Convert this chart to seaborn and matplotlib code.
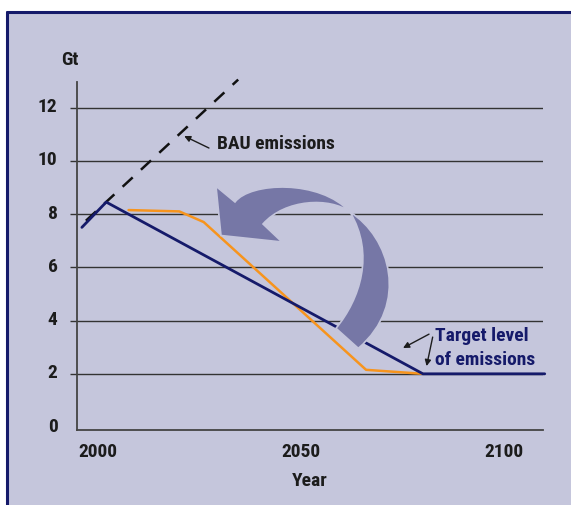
import os
import matplotlib
matplotlib.use("Agg")
import matplotlib.pyplot as plt
import matplotlib.transforms as mtransforms
from matplotlib.path import Path
from matplotlib.patches import PathPatch, Rectangle
from matplotlib.lines import Line2D
from matplotlib import font_manager
from matplotlib.font_manager import FontProperties
import pandas as pd
import seaborn as sns

# ---------------- data ----------------
target_years = [1996, 2002, 2080, 2110]
target_values = [7.5, 8.45, 2.0, 2.0]
path_years = [2007.5, 2020, 2026, 2066, 2080]
path_values = [8.15, 8.1, 7.7, 2.15, 2.0]
bau_years = [1997, 2034.5]
bau_values = [7.75, 13.05]
x_ticks = [2000, 2050, 2100]
x_tick_labels = ["2000", "2050", "2100"]
y_ticks = [0, 2, 4, 6, 8, 10, 12]
y_tick_labels = ["0", "2", "4", "6", "8", "10", "12"]

# ---------------- style ----------------
LAV = "#c5c6dc"
NAVY = "#151a6a"
ORANGE = "#f7941d"
ARROW = "#7677a6"
INK = "#1c1c1c"
GRID = "#333333"

sns.set_style("ticks")

# find a condensed bold face if one is installed
cands = []
for f in font_manager.fontManager.ttflist:
    fn = os.path.basename(f.fname).lower()
    if ("condensed" in fn or "narrow" in fn) and "bold" in fn and not any(
            k in fn for k in ["semi", "extra", "italic", "oblique", "light", "black", "medium", "semicond", "extracond"]):
        cands.append(f.fname)
pref = ["liberationsansnarrow-bold", "robotocondensed-bold", "notosans-condensedbold",
        "dejavusanscondensed-bold", "opensans-condensedbold", "opensans_condensed-bold"]
chosen = None
for p in pref:
    for c in cands:
        if os.path.basename(c).lower().startswith(p):
            chosen = c
            break
    if chosen:
        break
if chosen is None and cands:
    chosen = sorted(cands)[0]

if chosen:
    def fp(size):
        return FontProperties(fname=chosen, size=size)
else:
    def fp(size):
        return FontProperties(family=["Liberation Sans", "DejaVu Sans"], weight="bold", size=size * 0.86)
BASE = 14

W, H = 571, 506
fig = plt.figure(figsize=(W / 100, H / 100), dpi=100)
fig.patch.set_facecolor("white")

# panel background and border
fig.add_artist(Rectangle((7 / W, 0), 1 - 7 / W, (H - 13) / H, transform=fig.transFigure,
                         facecolor=LAV, edgecolor="none", zorder=0))
fig.add_artist(Line2D([7 / W, 1], [(H - 13) / H, (H - 13) / H], transform=fig.transFigure,
                      color=NAVY, lw=2.2, zorder=1))
fig.add_artist(Line2D([7 / W, 7 / W], [0, (H - 13) / H], transform=fig.transFigure,
                      color=NAVY, lw=2.2, zorder=1))

ax = fig.add_axes([77 / W, (H - 431) / H, (542.7 - 77) / W, (431 - 83) / H])
ax.set_facecolor("none")

df_t = pd.DataFrame({"Year": target_years, "Gt": target_values})
df_p = pd.DataFrame({"Year": path_years, "Gt": path_values})
df_b = pd.DataFrame({"Year": bau_years, "Gt": bau_values})

sns.lineplot(data=df_b, x="Year", y="Gt", ax=ax, color="#111111", lw=1.8,
             linestyle=(0, (5.5, 4.5)), sort=False, estimator=None, clip_on=False, zorder=3)
sns.lineplot(data=df_p, x="Year", y="Gt", ax=ax, color=ORANGE, lw=1.8,
             sort=False, estimator=None, zorder=3)
sns.lineplot(data=df_t, x="Year", y="Gt", ax=ax, color=NAVY, lw=2.0,
             sort=False, estimator=None, clip_on=False, zorder=4)

ax.set_xlim(1994.8, 2109.5)
ax.set_ylim(-0.11, 12.96)
ax.set_xticks(x_ticks)
ax.set_xticklabels(x_tick_labels)
ax.set_yticks(y_ticks)
ax.set_yticklabels(y_tick_labels)
ax.tick_params(axis="x", length=0, pad=8.5, labelcolor=INK)
ax.tick_params(axis="y", length=5, width=1.0, color=GRID, pad=9, labelcolor=INK)
shift_up = mtransforms.ScaledTranslation(0, 3.5 / 100, fig.dpi_scale_trans)
for lab in ax.get_xticklabels():
    lab.set_fontproperties(fp(BASE))
for lab in ax.get_yticklabels():
    lab.set_fontproperties(fp(BASE))
    lab.set_transform(lab.get_transform() + shift_up)
ax.yaxis.grid(True, color=GRID, lw=1.0)
ax.xaxis.grid(False)
ax.set_axisbelow(True)
# the zero line is the x axis itself
t0 = ax.yaxis.get_major_ticks()[0]
t0.gridline.set_visible(False)
t0.tick1line.set_visible(False)
for s in ["top", "right"]:
    ax.spines[s].set_visible(False)
for s in ["left", "bottom"]:
    ax.spines[s].set_color("#444444")
    ax.spines[s].set_linewidth(1.3)
ax.set_xlabel("Year", fontproperties=fp(BASE), color=INK, labelpad=8)
ax.set_ylabel("")
fig.text(70 / W, 1 - 60 / H, "Gt", ha="center", va="center", fontproperties=fp(BASE), color=INK)

# annotations
ax.text(2029.2, 10.66, "BAU emissions", ha="left", va="center", fontproperties=fp(BASE), color=INK)
ax.annotate("", xy=(2021.2, 10.93), xytext=(2027.3, 10.48),
            arrowprops=dict(arrowstyle="-|>", color=INK, lw=1.0, mutation_scale=9,
                            shrinkA=0, shrinkB=0))
ax.text(2083.0, 3.46, "Target level", ha="left", va="center", fontproperties=fp(BASE), color=NAVY)
ax.text(2083.0, 2.55, "of emissions", ha="left", va="center", fontproperties=fp(BASE), color=NAVY)
ax.annotate("", xy=(2075.1, 2.97), xytext=(2081.5, 3.49),
            arrowprops=dict(arrowstyle="-|>", color=INK, lw=1.0, mutation_scale=9,
                            shrinkA=0, shrinkB=0))
ax.annotate("", xy=(2080.9, 2.29), xytext=(2082.4, 3.38),
            arrowprops=dict(arrowstyle="-|>", color=INK, lw=1.0, mutation_scale=9,
                            shrinkA=0, shrinkB=0))

# big curved arrow (decoration), defined in image pixels (y down)
N1 = (235, 203); P = (350, 213); TO = (358.3, 349.3); TI = (336, 329.3)
N2 = (263, 225); B2 = (282, 243); T = (221, 236.5); B1 = (216, 187.3)
verts = [N1, (250, 183), (320, 180), P,
         (390, 238), (410, 305), TO,
         TI,
         (360, 300), (375, 255), P,
         (330, 198), (285, 200), N2,
         B2, T, B1, N1]
codes = [Path.MOVETO, Path.CURVE4, Path.CURVE4, Path.CURVE4,
         Path.CURVE4, Path.CURVE4, Path.CURVE4,
         Path.LINETO,
         Path.CURVE4, Path.CURVE4, Path.CURVE4,
         Path.CURVE4, Path.CURVE4, Path.CURVE4,
         Path.LINETO, Path.LINETO, Path.LINETO, Path.CLOSEPOLY]
pix = mtransforms.Affine2D().scale(1, -1).translate(0, fig.bbox.height)
arrow = PathPatch(Path(verts, codes), facecolor=ARROW, edgecolor=LAV, lw=1.2,
                  transform=pix, zorder=6, clip_on=False)
ax.add_patch(arrow)

fig.savefig("out.png", dpi=100, facecolor="white")
